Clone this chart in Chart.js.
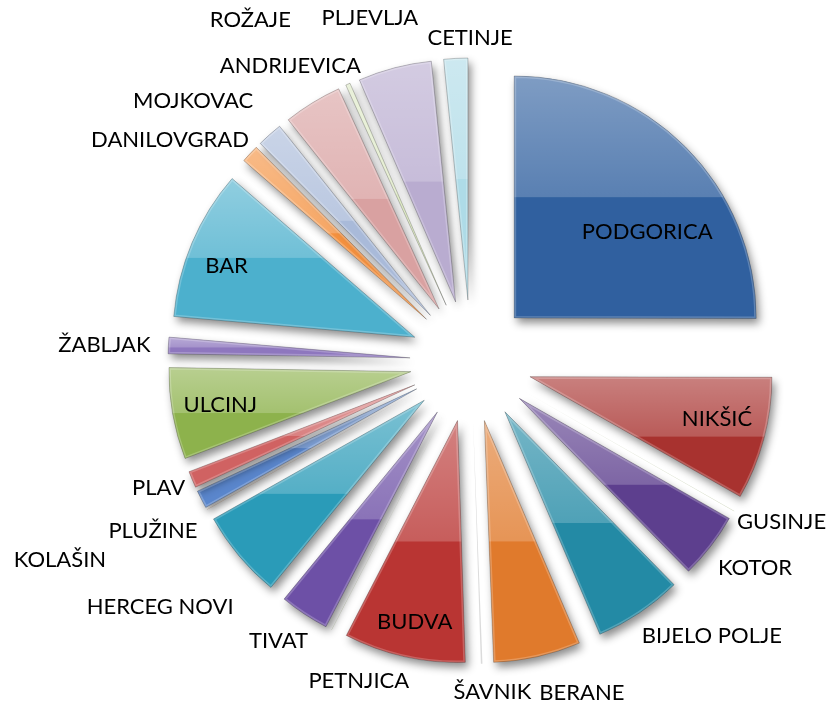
<!DOCTYPE html>
<html>
<head>
<meta charset="utf-8">
<script src="https://cdn.jsdelivr.net/npm/chart.js@4.4.0/dist/chart.umd.min.js"></script>
<style>
  html, body { margin: 0; padding: 0; background: #ffffff; }
  #wrap { width: 839px; height: 707px; }
</style>
</head>
<body>
<div id="wrap"><canvas id="pie" width="839" height="707"></canvas></div>
<script>
// Data (share of total, %), clockwise from 12 o'clock
const municipalities = [
  'PODGORICA', 'NIKŠIĆ', 'GUSINJE', 'KOTOR', 'BIJELO POLJE', 'BERANE',
  'ŠAVNIK', 'BUDVA', 'PETNJICA', 'TIVAT', 'HERCEG NOVI', 'KOLAŠIN',
  'PLUŽINE', 'PLAV', 'ULCINJ', 'ŽABLJAK', 'BAR', 'DANILOVGRAD',
  'MOJKOVAC', 'ANDRIJEVICA', 'ROŽAJE', 'PLJEVLJA', 'CETINJE'
];
const shares = [
  25.0, 8.2, 0.02, 4.4, 5.9, 5.8,
  0.1, 8.1, 0.02, 3.3, 5.9, 0.02,
  1.2, 1.1, 6.1, 1.1, 10.0, 1.2,
  1.7, 3.9, 0.3, 4.9, 1.6
];

// Office-style palette (base / lower half of each slice)
const sliceColors = [
  '#30609f', '#a8322f', '#71893f', '#5d3f8e', '#238aa5', '#e07a2c',
  '#b8b8b8', '#b93533', '#71893f', '#6d50a6', '#2a9bb8', '#c9732f',
  '#5a86cc', '#d06262', '#8db24c', '#8e77be', '#4cb0cd', '#f4913f',
  '#a9bad9', '#d9a1a1', '#d6e4b8', '#b9acd0', '#aedbe7'
];

const EXPLODE = 61;
const LABEL_FONT = '22px Lato';
const INSIDE_MIN = 6; // slices at least this big get their label inside
const HAIRLINE = 0.01; // radians; thinner slices get no outline or gloss

// small manual shifts where the outside labels were moved apart
const labelNudge = {
  'PODGORICA': [-4, 51], 'NIKŠIĆ': [0, -8], 'BUDVA': [0, 13], 'BAR': [-10, 4],
  'KOTOR': [7, 9], 'BIJELO POLJE': [28, 5], 'BERANE': [33, 16], 'ŠAVNIK': [9, 7],
  'PETNJICA': [55, 32], 'TIVAT': [-4, 9], 'HERCEG NOVI': [-15, 37],
  'KOLAŠIN': [-98, 40], 'PLUŽINE': [0, 22], 'ŽABLJAK': [-8, 1],
  'DANILOVGRAD': [-15, 0], 'MOJKOVAC': [-30, -18], 'ANDRIJEVICA': [20, -19],
  'ROŽAJE': [-77, -45], 'PLJEVLJA': [-10, -30], 'CETINJE': [17, 0]
};

function arcGeom(arc) {
  const p = arc.getProps(['x', 'y', 'startAngle', 'endAngle', 'outerRadius'], true);
  const mid = (p.startAngle + p.endAngle) / 2;
  p.mid = mid;
  p.dx = Math.cos(mid) * EXPLODE;
  p.dy = Math.sin(mid) * EXPLODE;
  return p;
}

// draws every arc pushed out along its bisector, with shadow and glass look
const explodePlugin = {
  id: 'explode',
  beforeDatasetDraw(chart, args) {
    const ctx = chart.ctx;
    const arcs = args.meta.data;

    arcs.forEach(arc => {
      const g = arcGeom(arc);
      const span = g.endAngle - g.startAngle;
      if (span <= 0) return;
      ctx.save();
      ctx.translate(g.dx, g.dy);
      if (span > HAIRLINE) {
        ctx.shadowColor = 'rgba(0,0,0,0.45)';
        ctx.shadowBlur = 9;
        ctx.shadowOffsetX = 3;
        ctx.shadowOffsetY = 5;
      } else {
        ctx.globalAlpha = 0.5;
      }
      arc.draw(ctx);
      ctx.restore();
    });

    arcs.forEach(arc => {
      const g = arcGeom(arc);
      if (g.endAngle - g.startAngle <= HAIRLINE) return;
      const { x, y, startAngle, endAngle, outerRadius: r } = g;
      ctx.save();
      ctx.translate(g.dx, g.dy);
      ctx.beginPath();
      ctx.moveTo(x, y);
      ctx.arc(x, y, r, startAngle, endAngle);
      ctx.closePath();

      const ys = [y, y + Math.sin(startAngle) * r, y + Math.sin(endAngle) * r];
      for (let a = -Math.PI / 2; a <= Math.PI * 1.5; a += Math.PI / 2) {
        if (a > startAngle && a < endAngle) ys.push(y + Math.sin(a) * r);
      }
      const top = Math.min(...ys);
      const bottom = Math.max(...ys);
      const half = (top + bottom) / 2;

      ctx.save();
      ctx.clip();
      const grad = ctx.createLinearGradient(0, top, 0, half);
      grad.addColorStop(0, 'rgba(255,255,255,0.38)');
      grad.addColorStop(1, 'rgba(255,255,255,0.20)');
      ctx.fillStyle = grad;
      ctx.fillRect(x - r - 5, top - 5, 2 * r + 10, half - top + 5);
      ctx.lineWidth = 4;
      ctx.strokeStyle = 'rgba(255,255,255,0.22)';
      ctx.stroke();
      ctx.restore();

      ctx.lineWidth = 1;
      ctx.strokeStyle = 'rgba(0,0,0,0.22)';
      ctx.stroke();
      ctx.restore();
    });
    return false;
  },
  afterDatasetsDraw(chart) {
    const ctx = chart.ctx;
    const meta = chart.getDatasetMeta(0);
    const values = chart.data.datasets[0].data;
    ctx.save();
    ctx.font = LABEL_FONT;
    ctx.fillStyle = '#000000';
    ctx.textAlign = 'center';
    ctx.textBaseline = 'middle';
    meta.data.forEach((arc, i) => {
      const g = arcGeom(arc);
      const name = chart.data.labels[i];
      const cx = Math.cos(g.mid), cy = Math.sin(g.mid);
      const vx = g.x + g.dx, vy = g.y + g.dy;
      let px, py;
      if (values[i] >= INSIDE_MIN) {
        px = vx + cx * g.outerRadius * 0.8;
        py = vy + cy * g.outerRadius * 0.8;
      } else {
        const w = ctx.measureText(name).width;
        px = vx + cx * (g.outerRadius + 10) + cx * w / 2;
        py = vy + cy * (g.outerRadius + 10) + cy * 11;
      }
      const n = labelNudge[name] || [0, 0];
      ctx.fillText(name, px + n[0], py + n[1]);
    });
    ctx.restore();
  }
};

const ctx = document.getElementById('pie').getContext('2d');
const pieChart = new Chart(ctx, {
  type: 'pie',
  data: {
    labels: municipalities,
    datasets: [{
      data: shares,
      backgroundColor: sliceColors,
      borderWidth: 0
    }]
  },
  options: {
    responsive: false,
    animation: false,
    radius: 242,
    layout: { padding: { left: 103, right: 0, top: 15, bottom: 0 } },
    plugins: {
      legend: { display: false },
      tooltip: { enabled: false }
    }
  },
  plugins: [explodePlugin]
});
</script>
</body>
</html>
